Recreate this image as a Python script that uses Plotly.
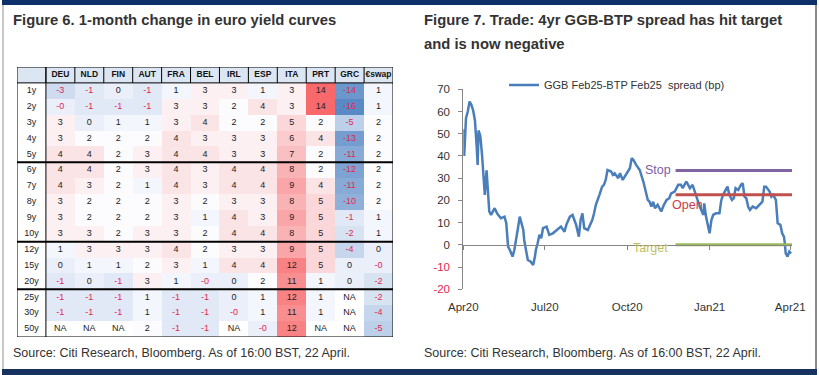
import plotly.graph_objects as go

FIG_W, FIG_H = 819, 375

# ---------------- Figure 6 data: 1-month change (bp) ----------------
COLUMNS = ["DEU", "NLD", "FIN", "AUT", "FRA", "BEL", "IRL", "ESP", "ITA", "PRT", "GRC", "€swap"]
TENORS = ["1y", "2y", "3y", "4y", "5y", "6y", "7y", "8y", "9y", "10y", "12y", "15y", "20y", "25y", "30y", "50y"]
ROW_1Y = ["-3", "-1", "0", "-1", "1", "3", "3", "1", "3", "14", "-14", "1"]
ROW_2Y = ["-0", "-1", "-1", "-1", "3", "3", "2", "4", "3", "14", "-16", "1"]
ROW_3Y = ["3", "0", "1", "1", "3", "4", "2", "2", "5", "2", "-5", "2"]
ROW_4Y = ["3", "2", "2", "2", "4", "3", "3", "3", "6", "4", "-13", "2"]
ROW_5Y = ["4", "4", "2", "3", "4", "4", "3", "3", "7", "2", "-11", "2"]
ROW_6Y = ["4", "4", "2", "3", "4", "3", "4", "4", "8", "2", "-12", "2"]
ROW_7Y = ["4", "3", "2", "1", "4", "3", "4", "4", "9", "4", "-11", "2"]
ROW_8Y = ["3", "2", "2", "2", "3", "2", "3", "3", "8", "5", "-10", "2"]
ROW_9Y = ["3", "2", "2", "2", "3", "1", "4", "3", "9", "5", "-1", "1"]
ROW_10Y = ["3", "3", "2", "3", "3", "2", "4", "4", "8", "5", "-2", "1"]
ROW_12Y = ["1", "3", "3", "3", "4", "2", "3", "3", "9", "5", "-4", "0"]
ROW_15Y = ["0", "1", "1", "2", "3", "1", "4", "4", "12", "5", "0", "-0"]
ROW_20Y = ["-1", "0", "-1", "3", "1", "-0", "0", "2", "11", "1", "0", "-2"]
ROW_25Y = ["-1", "-1", "-1", "1", "-1", "-1", "0", "1", "12", "1", "NA", "-2"]
ROW_30Y = ["-1", "-1", "-1", "1", "-1", "-1", "-0", "1", "11", "1", "NA", "-4"]
ROW_50Y = ["NA", "NA", "NA", "2", "-1", "-1", "NA", "-0", "12", "NA", "NA", "-5"]
CHANGES = [ROW_1Y, ROW_2Y, ROW_3Y, ROW_4Y, ROW_5Y, ROW_6Y, ROW_7Y, ROW_8Y,
           ROW_9Y, ROW_10Y, ROW_12Y, ROW_15Y, ROW_20Y, ROW_25Y, ROW_30Y, ROW_50Y]
COLOR_MID_VALUE = 2
HEADER_KEY = "hdr"
LABEL_KEY = "tenor"

# ---------------- Figure 7 data: GGB-BTP spread (bp) ----------------
SPREAD_DATES = [
    "2020-04-01", "2020-04-02", "2020-04-04", "2020-04-06", "2020-04-08", "2020-04-10", "2020-04-12", "2020-04-14",
    "2020-04-16", "2020-04-17", "2020-04-18", "2020-04-20", "2020-04-22", "2020-04-23", "2020-04-25", "2020-04-27",
    "2020-04-30",
    "2020-05-02", "2020-05-04", "2020-05-06", "2020-05-09", "2020-05-11", "2020-05-13", "2020-05-17", "2020-05-19",
    "2020-05-21", "2020-05-23", "2020-05-26", "2020-05-28",
    "2020-06-01", "2020-06-03", "2020-06-07", "2020-06-08", "2020-06-10", "2020-06-12", "2020-06-15", "2020-06-18",
    "2020-06-20", "2020-06-21", "2020-06-23", "2020-06-25", "2020-06-27", "2020-06-29",
    "2020-07-03", "2020-07-06", "2020-07-10", "2020-07-14", "2020-07-19", "2020-07-23", "2020-07-25", "2020-07-29",
    "2020-08-01", "2020-08-03", "2020-08-05", "2020-08-08", "2020-08-10", "2020-08-12", "2020-08-14", "2020-08-18",
    "2020-08-21", "2020-08-23", "2020-08-25", "2020-08-27", "2020-08-31",
    "2020-09-03", "2020-09-05", "2020-09-07", "2020-09-09", "2020-09-13", "2020-09-15", "2020-09-17", "2020-09-21",
    "2020-09-23", "2020-09-26", "2020-09-30",
    "2020-10-04", "2020-10-06", "2020-10-08", "2020-10-11", "2020-10-15", "2020-10-19", "2020-10-22", "2020-10-24",
    "2020-10-26", "2020-10-28", "2020-10-30",
    "2020-11-01", "2020-11-04", "2020-11-08", "2020-11-11", "2020-11-14", "2020-11-17", "2020-11-19", "2020-11-23",
    "2020-11-27", "2020-11-30",
    "2020-12-02", "2020-12-06", "2020-12-10", "2020-12-13", "2020-12-16", "2020-12-19", "2020-12-21", "2020-12-25",
    "2020-12-26", "2020-12-28",
    "2021-01-01", "2021-01-03", "2021-01-05", "2021-01-08", "2021-01-12", "2021-01-14", "2021-01-16", "2021-01-20",
    "2021-01-21", "2021-01-23", "2021-01-26", "2021-01-28", "2021-01-30",
    "2021-02-02", "2021-02-05", "2021-02-07", "2021-02-09", "2021-02-11", "2021-02-13", "2021-02-15", "2021-02-18",
    "2021-02-22", "2021-02-26",
    "2021-03-01", "2021-03-03", "2021-03-05", "2021-03-09", "2021-03-11", "2021-03-13", "2021-03-16", "2021-03-18",
    "2021-03-21", "2021-03-23", "2021-03-25", "2021-03-26", "2021-03-27", "2021-03-29", "2021-03-31",
    "2021-04-02",
]
SPREAD_BP = [
    52, 40, 57, 60, 64.5, 63, 60.5, 56,
    44, 36, 51.5, 49, 40, 33, 22.5, 33.5,
    15,
    13.5, 15, 16.5, 14, 13, 12, 12.7, 9.7,
    -0.8, -2.3, -5.3, -2.3,
    7.5, 12.7, 6.7, 2.2, -2.3, -6.8, -7.5, -9.1,
    -5.3, -2.3, 0.7, 4.5, 3, 7.5,
    8.2, 4.5, 5.2, 6.7, 8.2, 5.9, 9, 12.7,
    13.5, 11.2, 9, 3.7, 11.2, 14.2, 7.5, 6.7,
    9.7, 11.2, 14.2, 18, 22.5,
    26.2, 27, 29.2, 33.7, 33, 31.5, 32.2, 30,
    32.2, 29.2, 32.2,
    34.5, 39, 38.2, 36, 33.7, 28.5, 24, 20.2,
    19.4, 17.2, 19.4,
    16.5, 18, 15, 18, 20.2, 21, 23.2, 24,
    27, 27,
    25.5, 28.5, 25.5, 27, 23.2, 20.2, 17.2, 13.5,
    18.7, 12.7,
    5.2, 11.2, 13.5, 14.2, 14.2, 20, 22.5, 25.5,
    26.2, 22.5, 20.2, 21, 25.5,
    24.7, 27, 27.7, 21.7, 21, 17.2, 15.7, 17.2,
    16.5, 18,
    19.4, 26.2, 26.2, 24, 21.7, 22.5, 20.2, 9.7,
    9, 5.2, 3.7, 0.7, -3.8, -5.3, -3,
    -3.8,
]
assert len(SPREAD_DATES) == len(SPREAD_BP)
SERIES_NAME = "GGB Feb25-BTP Feb25  spread (bp)"
TRADE_DATES = ["2020-11-24", "2021-04-03"]
STOP_BP = 33.5
OPEN_BP = 22.5
TARGET_BP = 0
X_TICK_DATES = ["2020-04-01", "2020-07-01", "2020-10-01", "2021-01-01", "2021-04-01"]
X_TICK_LABELS = ["Apr20", "Jul20", "Oct20", "Jan21", "Apr21"]
Y_TICKS = [-20, -10, 0, 10, 20, 30, 40, 50, 60, 70]
X_RANGE = ["2020-04-01", "2021-04-03"]
Y_RANGE = [-20, 70]

# ---------------- styling ----------------
FONT = "Arial, Liberation Sans, sans-serif"
NARROW = "Liberation Sans Narrow, Arial Narrow, Arial, sans-serif"
TXT = "#333333"
NEG_RED = "#e3264f"
NAVY = "#0d2f6a"


def px_x(p):
    return p / FIG_W


def px_y(p):
    return 1 - p / FIG_H


fig = go.Figure()

# ---- heatmap table ----
z = [[None if s == "NA" else float(s) for s in row] for row in CHANGES]
vals = [v for row in z for v in row if v is not None]
zmin, zmax = min(vals), max(vals)
mid = (COLOR_MID_VALUE - zmin) / (zmax - zmin)
fig.add_trace(go.Heatmap(
    x=COLUMNS, y=TENORS, z=z, zmin=zmin, zmax=zmax,
    colorscale=[[0, "#5A8AC6"], [mid, "#FCFCFF"], [1, "#F8696B"]],
    showscale=False, hoverinfo="skip", xaxis="x", yaxis="y",
))

cx, cy, ct, cc = [], [], [], []
for tenor, row in zip(TENORS, CHANGES):
    for col, s in zip(COLUMNS, row):
        cx.append(col)
        cy.append(tenor)
        ct.append(s)
        cc.append(NEG_RED if s.startswith("-") else "#222222")
fig.add_trace(go.Scatter(
    x=cx, y=cy, text=ct, mode="text", textposition="middle center",
    textfont=dict(family=NARROW, size=9, color=cc),
    hoverinfo="skip", showlegend=False, xaxis="x", yaxis="y",
))
fig.add_trace(go.Scatter(
    x=[LABEL_KEY] * len(TENORS), y=TENORS, text=TENORS, mode="text",
    textfont=dict(family=NARROW, size=9, color="#222222"),
    hoverinfo="skip", showlegend=False, xaxis="x", yaxis="y",
))
fig.add_trace(go.Scatter(
    x=COLUMNS, y=[HEADER_KEY] * len(COLUMNS), text=[f"<b>{c}</b>" for c in COLUMNS], mode="text",
    textfont=dict(family=NARROW, size=8.5, color="#111111"),
    hoverinfo="skip", showlegend=False, xaxis="x", yaxis="y",
))

ncol = len(COLUMNS) + 1
nrow = len(TENORS) + 1
shapes = []
shapes.append(dict(type="rect", xref="x", yref="y", x0=-0.5, x1=ncol - 0.5, y0=-0.5, y1=0.5,
                   fillcolor="#dce6f2", line=dict(width=0), layer="below"))
for k in range(ncol - 1):
    shapes.append(dict(type="line", xref="x", yref="y", x0=k + 0.5, x1=k + 0.5, y0=-0.5, y1=0.5,
                       line=dict(color="black", width=1)))
shapes.append(dict(type="line", xref="x", yref="y", x0=0.5, x1=0.5, y0=-0.5, y1=nrow - 0.5,
                   line=dict(color="black", width=1)))
shapes.append(dict(type="line", xref="x", yref="y", x0=-0.5, x1=ncol - 0.5, y0=0.5, y1=0.5,
                   line=dict(color="black", width=1)))
for t in ["5y", "10y", "20y"]:
    yb = TENORS.index(t) + 1 + 0.5
    shapes.append(dict(type="line", xref="x", yref="y", x0=-0.5, x1=ncol - 0.5, y0=yb, y1=yb,
                       line=dict(color="black", width=2)))
shapes.append(dict(type="rect", xref="x", yref="y", x0=-0.5, x1=ncol - 0.5, y0=-0.5, y1=nrow - 0.5,
                   line=dict(color="black", width=1)))

# ---- spread chart ----
fig.add_trace(go.Scatter(
    x=SPREAD_DATES, y=SPREAD_BP, mode="lines", name=SERIES_NAME,
    line=dict(color="#4a7ebb", width=2.5), xaxis="x2", yaxis="y2", hoverinfo="skip",
))
for level, color in [(STOP_BP, "#8064A2"), (OPEN_BP, "#C0504D"), (TARGET_BP, "#9BBB59")]:
    fig.add_trace(go.Scatter(
        x=TRADE_DATES, y=[level, level], mode="lines", line=dict(color=color, width=3),
        showlegend=False, xaxis="x3", yaxis="y2", hoverinfo="skip",
    ))

ytext = [f'<span style="color:{NEG_RED}">{v}</span>' if v < 0 else str(v) for v in Y_TICKS]

annotations = [
    dict(text="<b>Figure 6. 1-month change in euro yield curves</b>", xref="paper", yref="paper",
         x=px_x(11), y=px_y(20), xanchor="left", yanchor="middle", showarrow=False,
         font=dict(family=FONT, size=14.8, color=TXT)),
    dict(text="<b>Figure 7. Trade: 4yr GGB-BTP spread has hit target</b>", xref="paper", yref="paper",
         x=px_x(422), y=px_y(20), xanchor="left", yanchor="middle", showarrow=False,
         font=dict(family=FONT, size=14.8, color=TXT)),
    dict(text="<b>and is now negative</b>", xref="paper", yref="paper",
         x=px_x(422), y=px_y(43.5), xanchor="left", yanchor="middle", showarrow=False,
         font=dict(family=FONT, size=14.8, color=TXT)),
    dict(text="Source: Citi Research, Bloomberg. As of 16:00 BST, 22 April.", xref="paper", yref="paper",
         x=px_x(11), y=px_y(353), xanchor="left", yanchor="middle", showarrow=False,
         font=dict(family=FONT, size=12.5, color=TXT)),
    dict(text="Source: Citi Research, Bloomberg. As of 16:00 BST, 22 April.", xref="paper", yref="paper",
         x=px_x(422), y=px_y(353), xanchor="left", yanchor="middle", showarrow=False,
         font=dict(family=FONT, size=12.5, color=TXT)),
    dict(text="Stop", xref="x2", yref="y2", x=TRADE_DATES[0], y=STOP_BP, xanchor="right",
         yanchor="middle", xshift=-3, showarrow=False, font=dict(family=FONT, size=12.5, color="#7b5ea7")),
    dict(text="Open", xref="x2", yref="y2", x=TRADE_DATES[0], y=OPEN_BP, xanchor="left",
         yanchor="top", xshift=-6, yshift=-1, showarrow=False, font=dict(family=FONT, size=12.5, color="#cc3a4c")),
    dict(text="Target", xref="x2", yref="y2", x=TRADE_DATES[0], y=TARGET_BP, xanchor="right",
         yanchor="middle", xshift=-6, yshift=-3, showarrow=False, font=dict(family=FONT, size=12.5, color="#c2bd5c")),
]

# frame: navy bars and side rules
shapes += [
    dict(type="rect", xref="paper", yref="paper", x0=px_x(2), x1=px_x(817), y0=px_y(5), y1=px_y(0),
         fillcolor=NAVY, line=dict(width=0)),
    dict(type="rect", xref="paper", yref="paper", x0=px_x(2), x1=px_x(817), y0=px_y(375), y1=px_y(369),
         fillcolor="#173260", line=dict(width=0)),
    dict(type="line", xref="paper", yref="paper", x0=px_x(3), x1=px_x(3), y0=px_y(369), y1=px_y(5),
         line=dict(color="#c8c8c8", width=2)),
    dict(type="line", xref="paper", yref="paper", x0=px_x(816), x1=px_x(816), y0=px_y(369), y1=px_y(5),
         line=dict(color="#8a8a8a", width=2)),
]

y2_dom = [px_y(289.3), px_y(89.3)]
zero_pos = y2_dom[0] + (0 - Y_RANGE[0]) / (Y_RANGE[1] - Y_RANGE[0]) * (y2_dom[1] - y2_dom[0])

hidden = dict(showgrid=False, zeroline=False, showline=False, showticklabels=False, ticks="")
fig.update_layout(
    width=FIG_W, height=FIG_H, autosize=False, template="none",
    margin=dict(l=0, r=0, t=0, b=0),
    paper_bgcolor="white", plot_bgcolor="rgba(0,0,0,0)",
    font=dict(family=FONT, color=TXT),
    showlegend=True,
    legend=dict(x=px_x(504), y=px_y(85), xanchor="left", yanchor="middle", orientation="h",
                font=dict(family=FONT, size=11, color=TXT), bgcolor="rgba(0,0,0,0)", borderwidth=0),
    xaxis=dict(type="category", categoryorder="array", categoryarray=[LABEL_KEY] + COLUMNS,
               range=[-0.5, ncol - 0.5], domain=[px_x(17), px_x(393)], anchor="y", **hidden),
    yaxis=dict(type="category", categoryorder="array", categoryarray=[HEADER_KEY] + TENORS,
               range=[nrow - 0.5, -0.5], domain=[px_y(337), px_y(67)], anchor="x", **hidden),
    xaxis2=dict(type="date", range=X_RANGE, domain=[px_x(463.3), px_x(792)], anchor="y2",
                tickvals=X_TICK_DATES, ticktext=X_TICK_LABELS, ticks="", showline=False,
                showgrid=False, zeroline=False, tickfont=dict(family=FONT, size=11.5, color=TXT),
                ticklabelstandoff=9),
    xaxis3=dict(type="date", range=X_RANGE, domain=[px_x(463.3), px_x(792)], overlaying="x2",
                anchor="free", position=zero_pos, tickvals=X_TICK_DATES, ticks="outside", ticklen=4,
                tickcolor="#868686", showline=True, linecolor="#868686", linewidth=1,
                showticklabels=False, showgrid=False, zeroline=False),
    yaxis2=dict(range=Y_RANGE, domain=y2_dom, anchor="x2", tickvals=Y_TICKS, ticktext=ytext,
                ticks="outside", ticklen=4, tickcolor="#868686", showline=True, linecolor="#868686",
                linewidth=1, showgrid=False, zeroline=False,
                tickfont=dict(family=FONT, size=11.5, color=TXT), ticklabelstandoff=6),
    shapes=shapes, annotations=annotations,
)

fig.write_html("out.html", config={"displayModeBar": False},
               post_script="document.body.style.margin='0px';document.body.style.overflow='hidden';")
